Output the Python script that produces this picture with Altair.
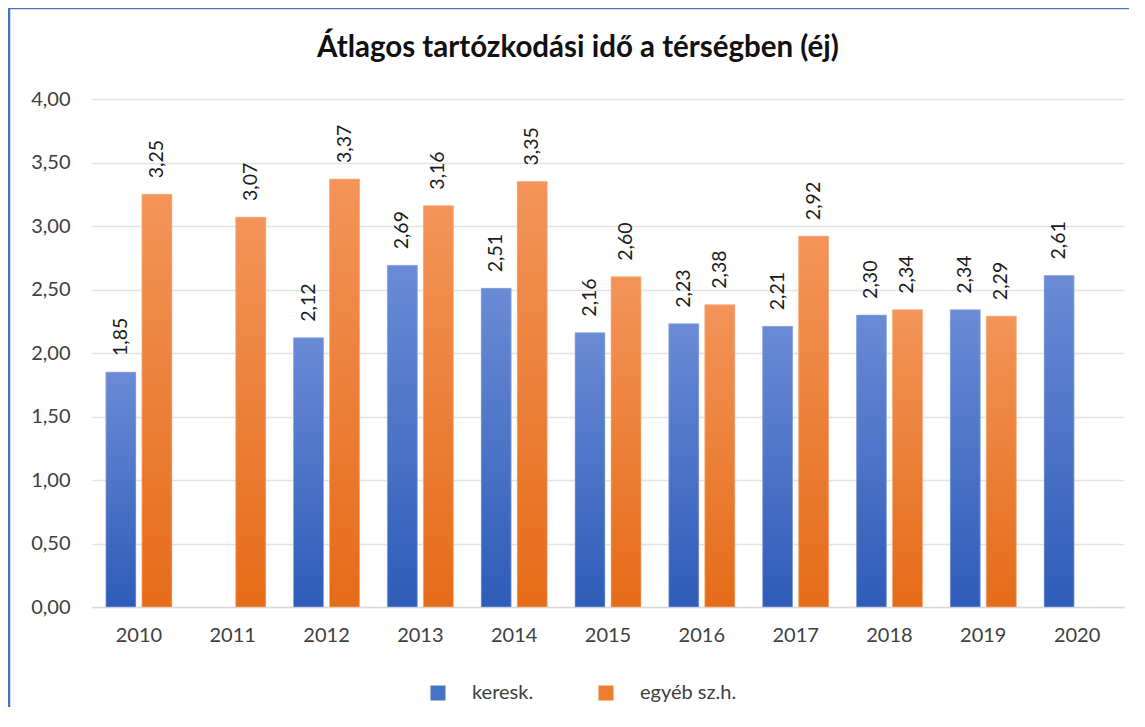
import altair as alt
import pandas as pd

years = ["2010", "2011", "2012", "2013", "2014", "2015", "2016", "2017", "2018", "2019", "2020"]
keresk = [1.85, None, 2.12, 2.69, 2.51, 2.16, 2.23, 2.21, 2.30, 2.34, 2.61]
egyeb = [3.25, 3.07, 3.37, 3.16, 3.35, 2.60, 2.38, 2.92, 2.34, 2.29, None]
series = ["keresk.", "egyéb sz.h."]
y_ticks = [0, 0.5, 1, 1.5, 2, 2.5, 3, 3.5, 4]

rows = []
for i, yr in enumerate(years):
    if keresk[i] is not None:
        rows.append({"year": yr, "series": series[0], "value": keresk[i]})
    if egyeb[i] is not None:
        rows.append({"year": yr, "series": series[1], "value": egyeb[i]})
df = pd.DataFrame(rows)

FONT = "Lato"

xenc = alt.X("year:N", sort=years, title=None,
             scale=alt.Scale(paddingInner=0.296, paddingOuter=0.148),
             axis=alt.Axis(labelAngle=0, labelFontSize=20, labelColor="#404040",
                           labelFont=FONT, labelPadding=18, ticks=False,
                           domainColor="#D9D9D9", domainWidth=1.3, grid=False))
yenc = alt.Y("value:Q", title=None,
             scale=alt.Scale(domain=[0, 4], nice=False),
             axis=alt.Axis(values=y_ticks, labelExpr="replace(format(datum.value, '.2f'), '.', ',')",
                           labelFontSize=20, labelColor="#404040", labelFont=FONT,
                           labelPadding=22, ticks=False, domain=False,
                           gridColor="#E3E3E3", gridWidth=1.3))
xoff = alt.XOffset("series:N", sort=series,
                   scale=alt.Scale(domain=series, paddingInner=0.167, paddingOuter=0))

base = alt.Chart(df)

legend_bars = base.mark_bar().encode(
    x=xenc, y=yenc, xOffset=xoff,
    color=alt.Color("series:N", sort=series,
                    scale=alt.Scale(domain=series, range=["#4472C4", "#ED7D31"]),
                    legend=alt.Legend(title=None, orient="none", direction="horizontal",
                                      legendX=336, legendY=584, symbolType="square",
                                      symbolSize=225, symbolStrokeWidth=0,
                                      labelFontSize=20, labelFont=FONT, labelColor="#404040",
                                      labelOffset=24, columnPadding=62)),
)

def grad(top, bottom):
    return alt.Gradient(gradient="linear", x1=0, x2=0, y1=0, y2=1,
                        stops=[alt.GradientStop(color=top, offset=0),
                               alt.GradientStop(color=bottom, offset=1)])

blue_bars = base.transform_filter(alt.datum.series == series[0]).mark_bar(
    color=grad("#6A8BD6", "#2E5CB8"), stroke="#A9BEE8", strokeWidth=0.6
).encode(x=xenc, y=yenc, xOffset=xoff)

orange_bars = base.transform_filter(alt.datum.series == series[1]).mark_bar(
    color=grad("#F39459", "#E56C18"), stroke="#F7BE9A", strokeWidth=0.6
).encode(x=xenc, y=yenc, xOffset=xoff)

labels = base.transform_calculate(
    lbl="replace(format(datum.value, '.2f'), '.', ',')"
).mark_text(angle=270, align="left", baseline="middle", dx=16, fontSize=19.5,
            font=FONT, color="#1a1a1a").encode(
    x=xenc, y=yenc, xOffset=xoff, text="lbl:N")

border = alt.Chart(pd.DataFrame({"a": [0]})).mark_rect(
    fill=None, stroke="#4472C4", strokeWidth=2.5
).encode(x=alt.value(-83), x2=alt.value(1200), y=alt.value(-91), y2=alt.value(800))

chart = alt.layer(legend_bars, blue_bars, orange_bars, labels, border).properties(
    width=1032, height=508,
    title=alt.Title("Átlagos tartózkodási idő a térségben (éj)", fontSize=29.5,
                    font=FONT, fontWeight="bold", color="#111111", offset=0,
                    anchor="middle", dy=57, dx=-30),
    autosize=alt.AutoSizeParams(type="none"),
    padding={"left": 84, "top": 91, "right": 5, "bottom": 100},
).configure_view(stroke=None)

chart.save("out.html", embed_options={"renderer": "svg", "actions": False})
